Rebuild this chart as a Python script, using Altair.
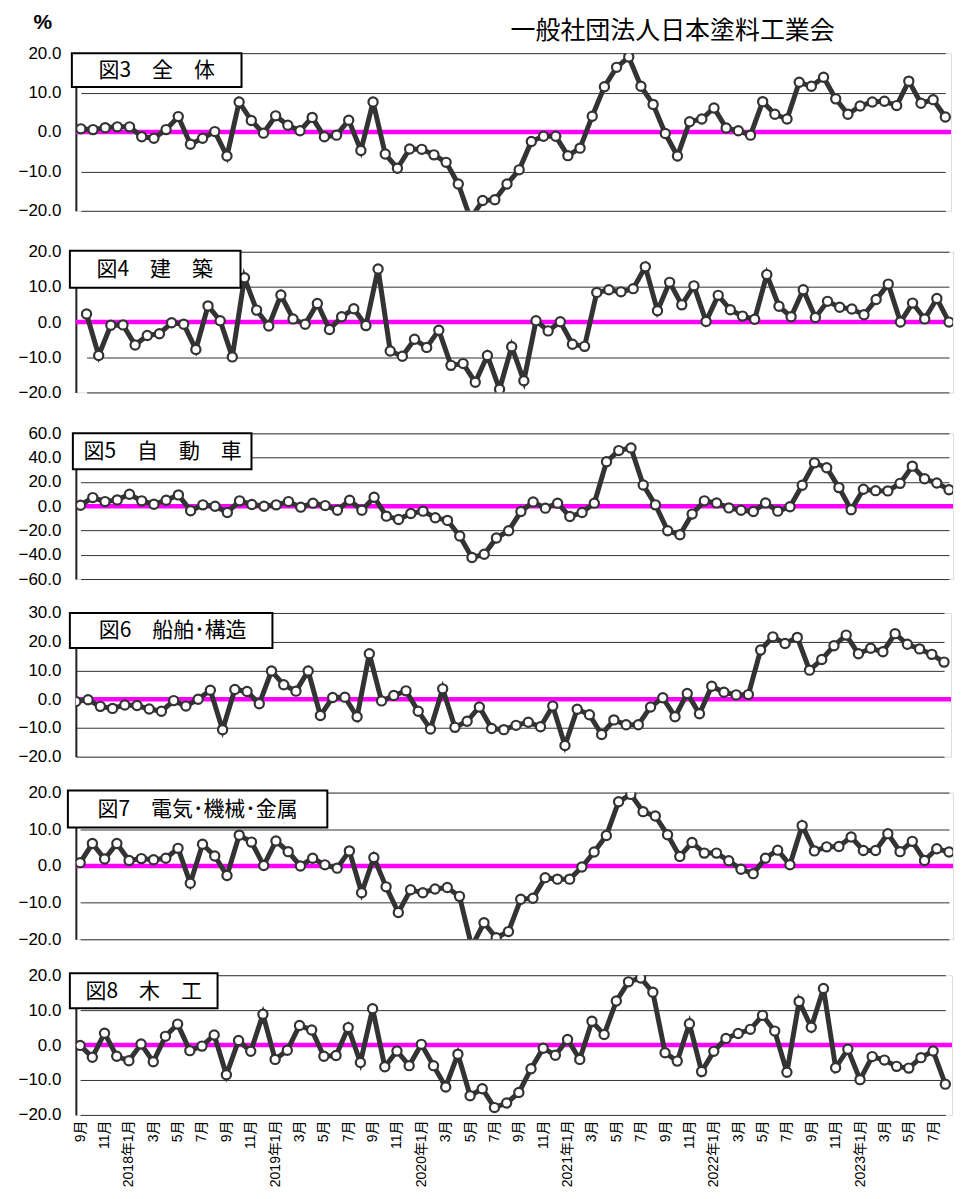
import altair as alt
import pandas as pd

# x-axis tick labels (every second month, Sep 2017 .. Jul 2023)
tick_labels = ["9月", "11月", "2018年1月", "3月", "5月", "7月",
               "9月", "11月", "2019年1月", "3月", "5月", "7月",
               "9月", "11月", "2020年1月", "3月", "5月", "7月",
               "9月", "11月", "2021年1月", "3月", "5月", "7月",
               "9月", "11月", "2022年1月", "3月", "5月", "7月",
               "9月", "11月", "2023年1月", "3月", "5月", "7月"]

titles = ["図3　全　体", "図4　建　築", "図5　自　動　車",
          "図6　船舶･構造", "図7　電気･機械･金属", "図8　木　工"]

zentai = [0.8, 0.6, 1.1, 1.3, 1.3, -1.2, -1.6, 0.6, 3.9, -3.1, -1.6, 0.1, -6.1, 7.6, 2.9, -0.3, 4.1, 1.7,
          0.3, 3.7, -1.2, -0.8, 3.0, -4.7, 7.6, -5.6, -9.2, -4.3, -4.4, -5.8, -7.7, -13.2, -22.0, -17.4,
          -17.2, -13.2, -9.6, -2.4, -1.1, -1.1, -6.0, -4.1, 4.0, 11.5, 16.4, 19.0, 11.6, 7.0, -0.4, -6.1,
          2.6, 3.3, 6.1, 1.0, 0.3, -0.8, 7.7, 4.5, 3.3, 12.6, 11.6, 13.9, 8.4, 4.5, 6.6, 7.6, 7.8, 6.7,
          12.9, 7.3, 8.2, 3.8]
kenchiku = [2.3, -9.5, -0.9, -0.8, -6.5, -3.8, -3.3, -0.2, -0.6, -7.8, 4.6, 0.4, -9.9, 12.6, 3.4, -1.1,
            7.7, 0.9, -0.6, 5.3, -2.1, 1.5, 3.8, -1.0, 15.1, -8.2, -9.7, -4.9, -7.2, -2.3, -12.3, -11.8,
            -17.1, -9.5, -19.1, -7.0, -16.7, 0.4, -2.5, 0.1, -6.3, -6.9, 8.4, 9.2, 8.6, 9.5, 15.7, 3.2,
            11.3, 4.9, 10.3, 0.2, 7.6, 3.5, 1.7, 0.8, 13.5, 4.5, 1.5, 9.2, 1.3, 5.9, 4.2, 3.7, 2.1, 6.4,
            10.8, 0.0, 5.4, 0.9, 6.7, 0.0]
jidousha = [0.8, 7.1, 3.8, 5.2, 9.8, 4.4, 1.6, 4.9, 9.3, -3.8, 1.1, 0.0, -5.2, 4.4, 1.4, 0.0, 1.1, 3.8,
            -0.8, 2.5, 0.5, -3.3, 4.9, -3.3, 7.4, -8.2, -10.9, -6.0, -4.1, -9.5, -11.7, -24.6, -42.3,
            -39.6, -26.2, -20.2, -4.4, 3.5, -1.6, 2.5, -8.5, -5.2, 2.5, 36.6, 45.8, 48.0, 17.5, 1.1,
            -20.2, -23.5, -6.5, 4.4, 2.7, -1.4, -3.3, -4.4, 2.7, -4.1, -0.5, 17.2, 35.7, 31.7, 15.3,
            -3.0, 13.9, 12.8, 12.6, 18.8, 33.0, 22.6, 19.1, 13.6]
senpaku = [-0.8, -0.2, -2.5, -3.2, -2.0, -2.2, -3.4, -4.2, -0.5, -2.4, 0.0, 3.1, -10.6, 3.4, 2.7, -1.6,
           9.8, 5.0, 2.8, 9.8, -5.7, 0.6, 0.7, -6.1, 15.8, -0.6, 1.3, 2.9, -4.2, -10.4, 3.6, -9.8, -7.7,
           -2.7, -10.2, -10.6, -9.1, -8.0, -9.6, -2.4, -16.1, -3.5, -5.4, -12.3, -7.2, -8.9, -8.9, -2.7,
           0.5, -6.1, 2.0, -5.1, 4.5, 2.4, 1.5, 1.6, 17.1, 21.7, 19.4, 21.5, 10.1, 13.8, 18.6, 22.3,
           15.8, 17.7, 16.5, 22.8, 19.1, 17.5, 15.6, 12.9]
denki = [0.9, 6.1, 1.9, 6.1, 1.5, 2.0, 1.7, 2.1, 4.8, -4.7, 5.9, 2.7, -2.6, 8.4, 6.5, 0.1, 6.8, 3.9, 0.0,
         2.1, 0.3, -0.6, 4.1, -7.3, 2.3, -5.7, -12.7, -6.5, -7.3, -6.3, -5.9, -8.3, -22.0, -15.5, -19.6,
         -17.9, -9.1, -8.8, -3.2, -3.6, -3.6, -0.3, 3.8, 8.3, 17.5, 19.5, 14.8, 13.6, 8.5, 2.6, 6.4, 3.5,
         3.5, 1.4, -0.9, -2.1, 2.1, 4.3, 0.3, 11.0, 4.1, 5.2, 5.3, 7.9, 4.2, 4.2, 8.8, 3.9, 6.7, 1.5,
         4.7, 3.8]
mokkou = [-0.1, -3.5, 3.4, -3.2, -4.5, 0.3, -4.8, 2.5, 6.0, -1.6, -0.3, 2.9, -8.5, 1.3, -1.8, 8.8, -4.1,
          -1.5, 5.6, 4.3, -3.2, -3.0, 5.0, -5.0, 10.4, -6.2, -1.7, -5.9, 0.2, -5.9, -12.0, -2.6, -14.5,
          -12.5, -17.9, -16.6, -13.6, -6.8, -0.9, -2.9, 1.6, -4.1, 6.8, 3.0, 12.6, 18.1, 19.2, 15.1, -2.2,
          -4.6, 6.1, -7.6, -1.8, 1.9, 3.3, 4.5, 8.5, 4.0, -7.8, 12.5, 5.1, 16.2, -6.5, -1.2, -9.9, -3.3,
          -4.3, -6.1, -6.6, -3.6, -1.7, -11.2]

y_domains = [[-20, 20], [-20, 20], [-60, 60], [-20, 30], [-20, 20], [-20, 20]]
y_ticks = [[-20, -10, 0, 10, 20], [-20, -10, 0, 10, 20], [-60, -40, -20, 0, 20, 40, 60],
           [-20, -10, 0, 10, 20, 30], [-20, -10, 0, 10, 20], [-20, -10, 0, 10, 20]]
series = [zentai, kenchiku, jidousha, senpaku, denki, mokkou]

# layout / style (pixels)
widths = [877, 879, 879, 877, 879, 878]
heights = [158, 141, 146, 144, 147, 140]
x_ranges = [[5, 871.3], [10.7, 875], [4.7, 875], [0, 870], [4.3, 875], [4.3, 871.3]]
boxes = [(-4, 166, 0, 34, 81), (-6, 165, -1, 36, 79), (-3, 176, 0, 36, 87),
         (-6, 197, 0, 35, 97), (-8, 252, -2, 35, 122), (-6, 142, -2, 33, 68)]

label_expr = "[" + ",".join("'%s'" % t for t in tick_labels) + "][round(datum.value/2)]"
ylabel_expr = "replace(format(datum.value, '.1f'), '-', '\u2212')"
CJK = "Noto Sans CJK JP"
LAT = "Liberation Sans"


def panel(k):
    df = pd.DataFrame({"i": list(range(len(series[k]))), "v": series[k]})
    xs = alt.Scale(domain=[0, 71], range=x_ranges[k], nice=False, zero=False)
    ys = alt.Scale(domain=y_domains[k], nice=False, zero=False)
    last = k == len(series) - 1
    if last:
        xaxis = alt.Axis(values=list(range(0, 72, 2)), labelExpr=label_expr, labelAngle=-90,
                         ticks=False, domain=False, grid=False, title=None, labelFlush=False,
                         labelOverlap=False, labelFont=LAT + ", " + CJK, labelFontSize=14,
                         labelColor="black", labelPadding=5)
    else:
        xaxis = None
    yaxis = alt.Axis(values=y_ticks[k], labelExpr=ylabel_expr, title=None, ticks=False, grid=True,
                     gridColor="#333333", gridWidth=1, domainColor="#222222", domainWidth=2,
                     labelFont=LAT, labelFontSize=17, labelColor="black", labelPadding=15,
                     labelFlush=False, labelOverlap=False)
    base = alt.Chart(df)
    zero = alt.Chart(pd.DataFrame({"z": [0]})).mark_rule(color="#FF00FF", strokeWidth=4.5).encode(
        y=alt.Y("z:Q", scale=ys, axis=yaxis))
    line = base.mark_line(color="#333333", strokeWidth=5, clip=True).encode(
        x=alt.X("i:Q", scale=xs, axis=xaxis), y=alt.Y("v:Q", scale=ys, axis=yaxis))
    pts = base.mark_point(shape="circle", filled=True, fill="white", stroke="#333333",
                          strokeWidth=2.2, size=85, opacity=1, clip=True).encode(
        x=alt.X("i:Q", scale=xs, axis=xaxis), y=alt.Y("v:Q", scale=ys, axis=yaxis))
    x1, x2, y1, y2, tc = boxes[k]
    one = alt.Chart(pd.DataFrame({"t": [titles[k]]}))
    box = one.mark_rect(fill="white", stroke="black", strokeWidth=2).encode(
        x=alt.value(x1), x2=alt.value(x2), y=alt.value(y1), y2=alt.value(y2))
    txt = one.mark_text(font=CJK, fontSize=21, color="black", align="center",
                        baseline="middle").encode(
        x=alt.value(tc), y=alt.value((y1 + y2) / 2 + 1), text="t:N")
    layers = [zero, line, pts, box, txt]
    if k == 0:
        hdr = one.mark_text(font=CJK, fontSize=25, color="black", align="center",
                            baseline="alphabetic").encode(
            x=alt.value(598), y=alt.value(-14.5), text=alt.value("一般社団法人日本塗料工業会"))
        pct = one.mark_text(font=LAT, fontSize=21, fontWeight="bold", color="black",
                            align="center", baseline="alphabetic").encode(
            x=alt.value(-33), y=alt.value(-24.5), text=alt.value("%"))
        layers += [hdr, pct]
    return alt.layer(*layers).properties(width=widths[k], height=heights[k])


A = alt.vconcat(panel(0), panel(1), panel(2), spacing=41, bounds="flush")
B = alt.vconcat(panel(3), panel(4), panel(5), spacing=36, bounds="flush")
chart = alt.vconcat(A, B, spacing=15).properties(
    padding={"left": 9, "top": 2, "right": 0, "bottom": 0}
).configure_view(stroke="#8c8c8c", strokeWidth=2).configure(background="white")

chart.save("out.html", embed_options={"renderer": "svg", "actions": False})
